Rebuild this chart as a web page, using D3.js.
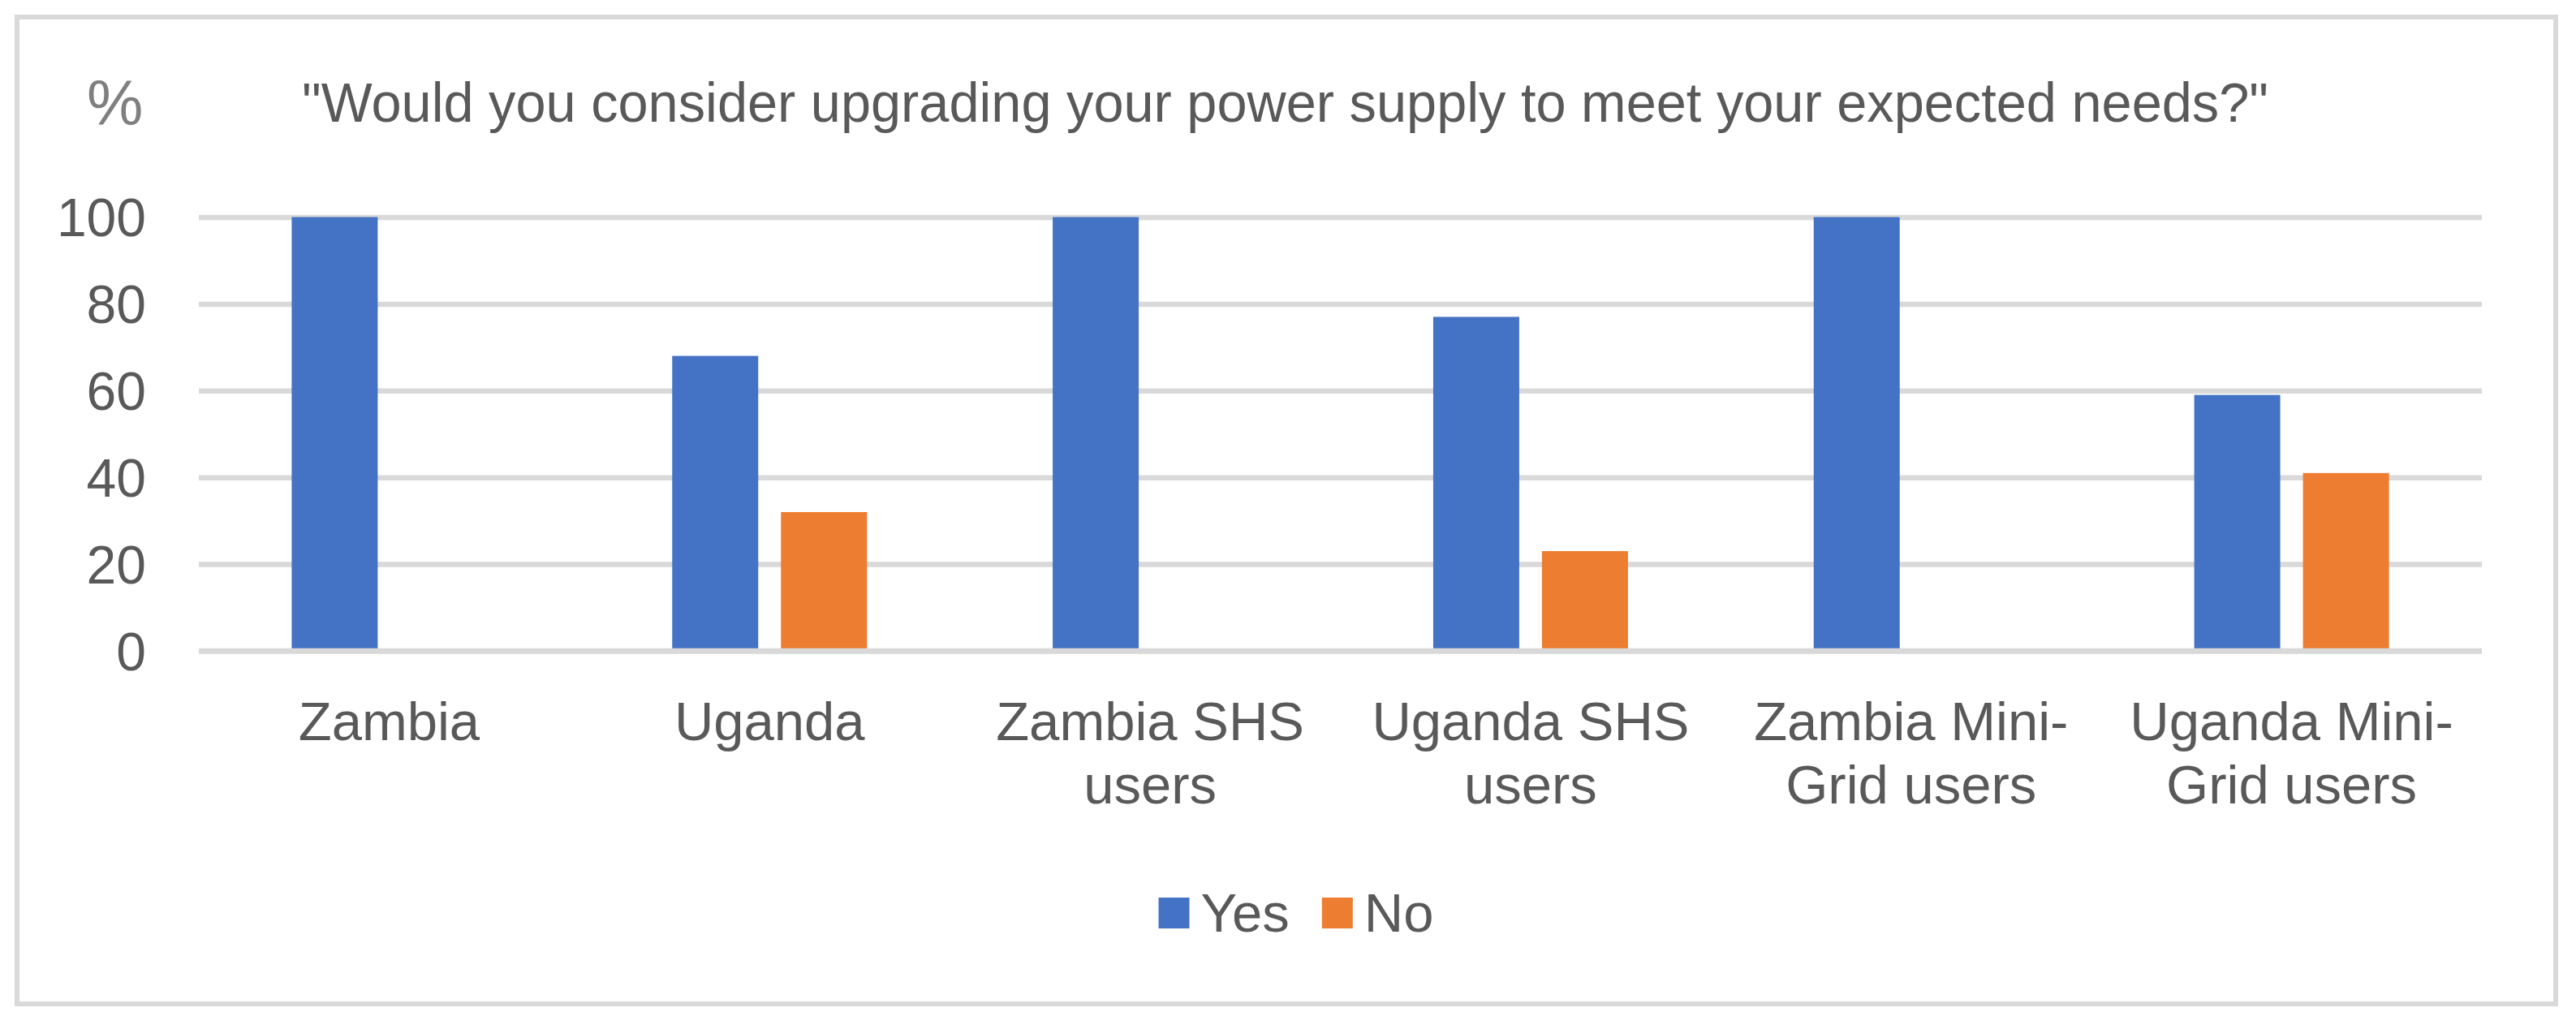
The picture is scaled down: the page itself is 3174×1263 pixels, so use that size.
<!DOCTYPE html>
<html>
<head>
<meta charset="utf-8">
<script src="https://cdn.jsdelivr.net/npm/d3@7"></script>
<style>
  html, body { margin: 0; padding: 0; background: #fff; }
  svg { display: block; }
  text { font-family: "Liberation Sans", Arial, sans-serif; fill: #595959; }
</style>
</head>
<body>
<svg id="chart" width="3174" height="1263"></svg>
<script>
// ---- data ----
const categories = ["Zambia", "Uganda", "Zambia SHS users", "Uganda SHS users", "Zambia Mini-Grid users", "Uganda Mini-Grid users"];
const categoryLines = [["Zambia"], ["Uganda"], ["Zambia SHS", "users"], ["Uganda SHS", "users"], ["Zambia Mini-", "Grid users"], ["Uganda Mini-", "Grid users"]];
const seriesNames = ["Yes", "No"];
const yesValues = [100, 68, 100, 77, 100, 59];
const noValues = [0, 32, 0, 23, 0, 41];
const yTicks = [0, 20, 40, 60, 80, 100];
const titleText = "\"Would you consider upgrading your power supply to meet your expected needs?\"";
const yUnit = "%";
const colors = { Yes: "#4472c4", No: "#ed7d31" };

// ---- layout ----
const W = 3174, H = 1263;
const plot = { left: 245, right: 3058, top: 267.5, bottom: 802 };
const fontSize = 68;
const gridColor = "#d9d9d9";

const svg = d3.select("#chart");

// outer frame
svg.append("rect")
  .attr("x", 21).attr("y", 21).attr("width", 3128).attr("height", 1216)
  .attr("fill", "#fff").attr("stroke", gridColor).attr("stroke-width", 6);

const x0 = d3.scaleBand().domain(categories).range([plot.left, plot.right]).padding(0);
const groupW = 240;
const x1 = d3.scaleBand().domain(seriesNames).range([0, groupW]).paddingInner(0.209).paddingOuter(0);
const y = d3.scaleLinear().domain([0, 100]).range([plot.bottom, plot.top]);

// gridlines + y labels
const yAxis = d3.axisLeft(y).tickValues(yTicks).tickFormat(d3.format("d"))
  .tickSizeInner(-(plot.right - plot.left)).tickSizeOuter(0).tickPadding(65);
const gy = svg.append("g").attr("transform", `translate(${plot.left},0)`).call(yAxis);
gy.select(".domain").remove();
gy.selectAll(".tick line").attr("stroke", gridColor).attr("stroke-width", 6.5);
gy.selectAll(".tick text")
  .attr("font-size", 66).attr("font-family", null).attr("fill", "#595959")
  .attr("dy", "0.35em");

// bars
const rows = categories.map((c, i) => ({ cat: c, Yes: yesValues[i], No: noValues[i] }));
const groups = svg.append("g").selectAll("g").data(rows).join("g")
  .attr("transform", d => `translate(${x0(d.cat) + (x0.bandwidth() - groupW) / 2},0)`);
groups.selectAll("rect")
  .data(d => seriesNames.map(s => ({ key: s, value: d[s] })))
  .join("rect")
  .attr("x", d => x1(d.key))
  .attr("width", x1.bandwidth())
  .attr("y", d => y(d.value))
  .attr("height", d => y(0) - y(d.value))
  .attr("fill", d => colors[d.key]);

// baseline over bars
svg.append("line")
  .attr("x1", plot.left).attr("x2", plot.right)
  .attr("y1", y(0)).attr("y2", y(0))
  .attr("stroke", gridColor).attr("stroke-width", 6.5);

// category labels
const xAxis = d3.axisBottom(x0).tickSize(0).tickSizeOuter(0);
const gx = svg.append("g").attr("transform", `translate(0,${plot.bottom})`).call(xAxis);
gx.select(".domain").remove();
gx.selectAll(".tick text").each(function (d, i) {
  const t = d3.select(this);
  t.text(null).attr("dy", null).attr("y", 110)
    .attr("font-size", 67).attr("font-family", null).attr("fill", "#595959");
  categoryLines[i].forEach((ln, k) => {
    t.append("tspan").attr("x", 0).attr("y", 110 + k * 78).text(ln);
  });
});

// title
svg.append("text").attr("x", 372).attr("y", 150)
  .attr("font-size", fontSize)
  .attr("textLength", 2423).attr("lengthAdjust", "spacingAndGlyphs")
  .text(titleText);

// y unit
svg.append("text").attr("x", 107).attr("y", 154)
  .attr("font-size", 78).style("fill", "#7f7f7f").text(yUnit);

// legend
const legend = svg.append("g");
const sq = 38, gapTxt = 14, gapItem = 40, legBase = 1148;
let cx = 0;
seriesNames.forEach(s => {
  const g = legend.append("g");
  g.append("rect").attr("x", cx).attr("y", legBase - 42).attr("width", sq).attr("height", sq).attr("fill", colors[s]);
  const t = g.append("text").attr("x", cx + sq + gapTxt).attr("y", legBase).attr("font-size", 67).text(s);
  cx += sq + gapTxt + t.node().getComputedTextLength() + gapItem;
});
const legW = cx - gapItem;
legend.attr("transform", `translate(${1597 - legW / 2},0)`);
</script>
</body>
</html>
